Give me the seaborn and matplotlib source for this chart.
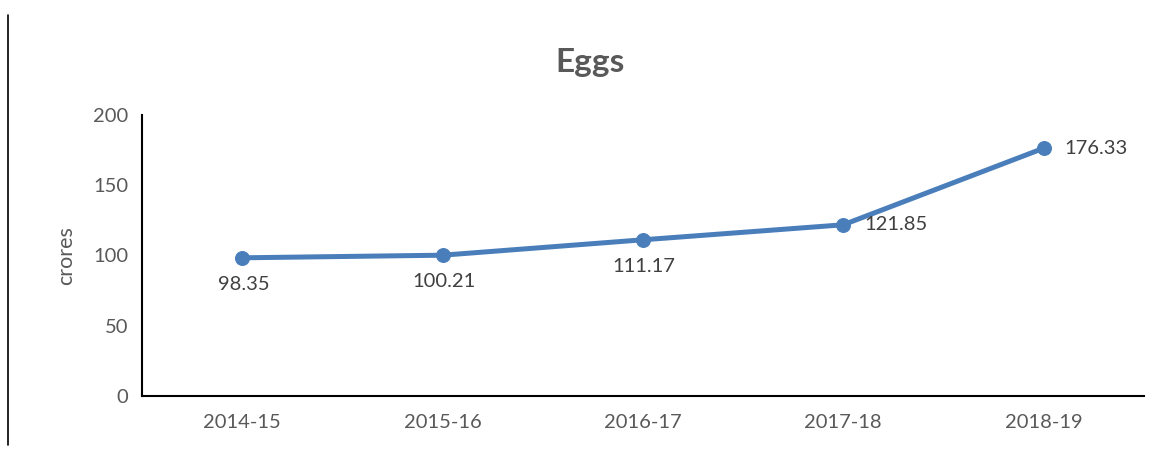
import matplotlib
matplotlib.use('Agg')
import matplotlib.pyplot as plt
from matplotlib.lines import Line2D
import seaborn as sns
import pandas as pd

years = ['2014-15', '2015-16', '2016-17', '2017-18', '2018-19']
eggs = [98.35, 100.21, 111.17, 121.85, 176.33]

sns.set_theme(style='white')
plt.rcParams['font.family'] = ['Lato', 'DejaVu Sans']
grey = '#595959'
blue = '#4a7ebb'

df = pd.DataFrame({'Year': years, 'Eggs': eggs})

fig = plt.figure(figsize=(11.6, 4.51), dpi=100)
ax = fig.add_axes([0.1224, 0.122, 0.8636, 0.623])

sns.lineplot(data=df, x='Year', y='Eggs', ax=ax, color=blue, linewidth=3.6,
             marker='o', markersize=10, markeredgecolor=blue, sort=False)

ax.set_xlim(-0.5, len(years) - 0.5)
ax.set_ylim(0, 200)
ax.set_yticks([0, 50, 100, 150, 200])
ax.set_xlabel('')
ax.set_ylabel('crores', fontsize=15.5, color=grey, labelpad=12)
ax.tick_params(axis='both', labelsize=14.5, labelcolor=grey, length=0, pad=10)
ax.tick_params(axis='x', pad=13)

for s in ['top', 'right']:
    ax.spines[s].set_visible(False)
for s in ['left', 'bottom']:
    ax.spines[s].set_color('black')
    ax.spines[s].set_linewidth(1.5)

# data labels: first three below, last two to the right
for i, v in enumerate(eggs):
    if i < 3:
        ax.annotate(f'{v:.2f}', (i, v), xytext=(1, -19), textcoords='offset points',
                    ha='center', va='center', fontsize=14.5, color='#404040')
    else:
        ax.annotate(f'{v:.2f}', (i, v), xytext=(15, 0), textcoords='offset points',
                    ha='left', va='center', fontsize=14.5, color='#404040')

fig.text(0.509, 0.862, 'Eggs', ha='center', va='center', fontsize=24,
         fontweight='bold', color=grey)

fig.add_artist(Line2D([8 / 1160, 8 / 1160], [1 - 15 / 451, 1 - 445 / 451],
                      color='black', linewidth=1.2))

fig.savefig('out.png', dpi=100)
